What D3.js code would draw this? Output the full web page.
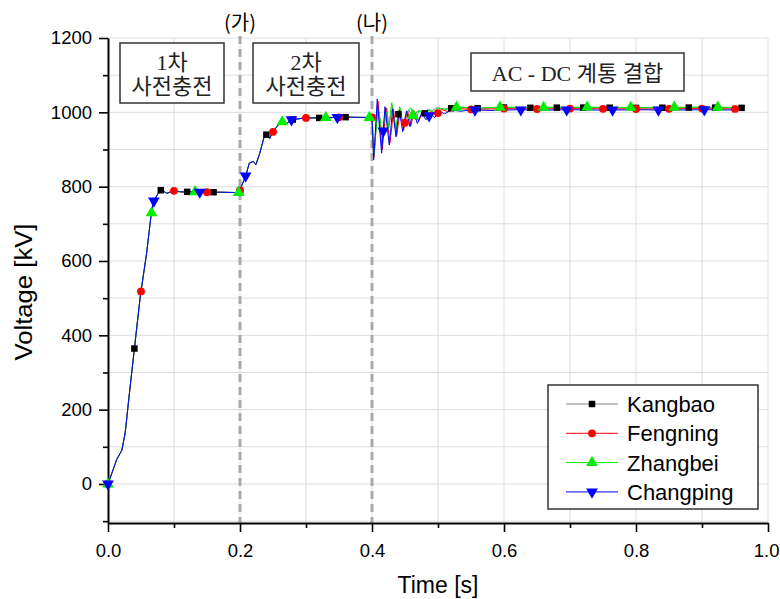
<!DOCTYPE html>
<html>
<head>
<meta charset="utf-8">
<script src="https://cdn.jsdelivr.net/npm/d3@7"></script>
<style>
  body { margin: 0; background: #fff; }
  text { font-family: "Liberation Sans", Arial, sans-serif; fill: #000; }
</style>
</head>
<body>
<div id="chart"></div>
<script>
// ---- data ----
var ticksX = [0, 0.2, 0.4, 0.6, 0.8, 1.0]
var ticksY = [0, 200, 400, 600, 800, 1000, 1200]
var seriesNames = ["Kangbao", "Fengning", "Zhangbei", "Changping"]
var seriesColors = ["#808080", "#ff0000", "#00ee00", "#0000ff"]
var markerColors = ["#000000", "#ff0000", "#00ee00", "#0000ff"]
var phaseTimes = [0.2, 0.4]
var phaseLabels = ["(가)", "(나)"]
var noteLines = [["1차", "사전충전"], ["2차", "사전충전"], ["AC - DC 계통 결합"]]

// all four stations overlap during the two pre-charging steps (t, kV)
var precharge = [[0,0],[0.013,65],[0.021,91],[0.026,137],[0.033,253],[0.0394,355],[0.049,506],
  [0.0585,621],[0.065,719],[0.069,760],[0.0788,791],[0.084,788],[0.089,782],[0.099,789],[0.11,786],
  [0.13,786],[0.15,785],[0.17,785],[0.199,784],[0.202,800],[0.209,831],[0.214,863],[0.220,868],
  [0.224,859],[0.230,890],[0.238,944],[0.245,930],[0.249,945],[0.2556,961],[0.263,975],[0.27,969],
  [0.278,980],[0.29,983],[0.298,985],[0.32,985],[0.36,987],[0.399,986]]

// after AC-DC connection (t, kV)
var kangbaoTail = [[0.400,986],[0.402,905],[0.4035,888],[0.4065,965],[0.4095,1020],[0.4125,970],
  [0.416,925],[0.4195,990],[0.4225,1012],[0.4255,960],[0.4285,990],[0.431,1018],[0.4335,978],
  [0.4365,955],[0.4395,992],[0.4425,1010],[0.4455,982],[0.4485,965],[0.4525,998],[0.456,1006],
  [0.46,990],[0.464,982],[0.468,1002],[0.473,1004],[0.478,992],[0.484,1008],[0.49,1002],
  [0.497,1012],[0.51,1009],[0.53,1013],[0.56,1011],[0.6,1013],[0.65,1012],[0.7,1013],[0.8,1012],
  [0.9,1013],[0.962,1012]]
var fengningTail = [[0.400,986],[0.402,900],[0.403,880],[0.406,960],[0.409,1030],[0.412,960],
  [0.4155,900],[0.4185,955],[0.421,1012],[0.424,965],[0.4272,918],[0.430,960],[0.4325,1008],
  [0.435,970],[0.4375,938],[0.4405,978],[0.443,1004],[0.4455,978],[0.448,952],[0.451,982],
  [0.454,1003],[0.4565,985],[0.459,965],[0.462,988],[0.4645,1003],[0.4705,975],[0.477,1002],
  [0.4835,985],[0.490,1003],[0.497,992],[0.505,1008],[0.515,1002],[0.53,1010],[0.55,1008],
  [0.6,1010],[0.65,1009],[0.7,1010],[0.8,1009],[0.9,1010],[0.962,1009]]
var zhangbeiTail = [[0.400,985],[0.4015,920],[0.403,885],[0.406,950],[0.409,1005],[0.412,985],
  [0.4155,940],[0.419,985],[0.422,1000],[0.425,955],[0.428,1000],[0.430,1026],[0.433,985],
  [0.436,950],[0.439,990],[0.442,1015],[0.445,980],[0.448,960],[0.452,995],[0.456,1008],
  [0.459,1012],[0.463,985],[0.467,980],[0.471,1005],[0.476,1000],[0.481,990],[0.487,1008],
  [0.493,1000],[0.50,1012],[0.51,1008],[0.53,1014],[0.56,1012],[0.6,1014],[0.65,1013],[0.7,1014],
  [0.8,1013],[0.9,1014],[0.962,1013]]
var changpingTail = [[0.400,985],[0.4015,925],[0.4025,872],[0.405,945],[0.408,1036],[0.4115,955],
  [0.4146,890],[0.417,950],[0.4197,1015],[0.423,962],[0.4262,912],[0.429,965],[0.4313,1010],
  [0.434,968],[0.4364,934],[0.439,975],[0.4414,1005],[0.444,976],[0.4465,948],[0.4495,980],
  [0.4525,1004],[0.455,982],[0.4576,961],[0.460,985],[0.4626,1002],[0.4687,970],[0.4753,999],
  [0.4818,980],[0.4889,997],[0.495,986],[0.502,1003],[0.51,996],[0.52,1006],[0.535,1003],
  [0.55,1007],[0.58,1005],[0.62,1007],[0.66,1006],[0.70,1007],[0.75,1006],[0.80,1007],[0.85,1006],
  [0.90,1007],[0.962,1006]]

// times where each series carries a marker
var kangbaoMarks = [0,0.04,0.08,0.12,0.16,0.2,0.24,0.28,0.32,0.36,0.4,0.44,0.48,0.52,0.56,0.6,
  0.64,0.68,0.72,0.76,0.8,0.84,0.88,0.92,0.96]
var fengningMarks = [0,0.05,0.1,0.15,0.2,0.25,0.3,0.35,0.4,0.45,0.5,0.55,0.6,0.65,0.7,0.75,0.8,
  0.85,0.9,0.95]
var zhangbeiMarks = [0,0.066,0.132,0.198,0.264,0.33,0.396,0.462,0.528,0.594,0.66,0.726,0.792,
  0.858,0.924]
var changpingMarks = [0,0.0695,0.139,0.2085,0.278,0.3475,0.417,0.4865,0.556,0.6255,0.695,0.7645,
  0.834,0.9035]

var seriesData = [precharge.concat(kangbaoTail), precharge.concat(fengningTail),
  precharge.concat(zhangbeiTail), precharge.concat(changpingTail)]
var seriesMarks = [kangbaoMarks, fengningMarks, zhangbeiMarks, changpingMarks]
var seriesSymbols = [d3.symbolSquare, d3.symbolCircle, d3.symbolTriangle, d3.symbolTriangle]

// ---- chart ----
var svg = d3.select("#chart").append("svg")
  .attr("width", 780)
  .attr("height", 599)

var x = d3.scaleLinear().domain([0, 1]).range([108, 768])
var y = d3.scaleLinear().domain([-105, 1200]).range([523, 38])

// light grid on every minor step
svg.append("g").selectAll("line")
  .data(x.ticks(10).slice(1))
  .join("line")
  .attr("x1", d => x(d)).attr("x2", d => x(d))
  .attr("y1", y(1200)).attr("y2", y(-105))
  .attr("stroke", "#dedede")
svg.append("g").selectAll("line")
  .data(d3.range(-100, 1201, 100))
  .join("line")
  .attr("x1", x(0)).attr("x2", x(1))
  .attr("y1", d => y(d)).attr("y2", d => y(d))
  .attr("stroke", "#dedede")

// phase markers (dashed)
svg.append("g").selectAll("line")
  .data(phaseTimes)
  .join("line")
  .attr("x1", d => x(d)).attr("x2", d => x(d))
  .attr("y1", 36).attr("y2", y(-105))
  .attr("stroke", "#aaaaaa")
  .attr("stroke-width", 3)
  .attr("stroke-dasharray", "8,5")
svg.append("g").selectAll("text")
  .data(phaseLabels)
  .join("text")
  .attr("x", (d, i) => x(phaseTimes[i]))
  .attr("y", 30)
  .attr("text-anchor", "middle")
  .style("font-family", "'Noto Sans CJK KR', sans-serif")
  .style("font-size", "20px")
  .text(d => d)

// axes
var xAxis = svg.append("g")
  .attr("transform", "translate(0," + y(-105) + ")")
  .call(d3.axisBottom(x).tickValues(ticksX).tickFormat(d3.format(".1f")).tickSize(9).tickSizeOuter(0).tickPadding(8))
svg.append("g")
  .attr("transform", "translate(0," + y(-105) + ")")
  .call(d3.axisBottom(x).tickValues(x.ticks(10).filter(d => ticksX.indexOf(+d.toFixed(1)) < 0)).tickSize(5).tickFormat(""))
  .call(g => g.select(".domain").remove())

var yAxis = svg.append("g")
  .attr("transform", "translate(" + x(0) + ",0)")
  .call(d3.axisLeft(y).tickValues(ticksY).tickFormat(d3.format("d")).tickSize(9).tickSizeOuter(0).tickPadding(7))
svg.append("g")
  .attr("transform", "translate(" + x(0) + ",0)")
  .call(d3.axisLeft(y).tickValues(d3.range(-100, 1200, 200)).tickSize(5).tickFormat(""))
  .call(g => g.select(".domain").remove())

svg.selectAll(".domain").attr("stroke-width", 2)
svg.selectAll(".tick line").attr("stroke-width", 1.6)
svg.selectAll(".tick text").style("font-size", "18.5px").style("font-family", "'Liberation Sans', Arial, sans-serif")
xAxis.selectAll(".tick text").attr("dy", "0.9em")
// last label sits on the page edge, as in the figure
xAxis.selectAll(".tick text").filter(d => d == 1).attr("dx", "-0.1em")

svg.append("text")
  .attr("x", 438).attr("y", 593)
  .attr("text-anchor", "middle")
  .style("font-size", "23px")
  .text("Time [s]")
svg.append("text")
  .attr("transform", "translate(32," + 292 + ") rotate(-90)")
  .attr("text-anchor", "middle")
  .style("font-size", "23px")
  .attr("textLength", 137)
  .attr("lengthAdjust", "spacingAndGlyphs")
  .text("Voltage [kV]")

// annotation boxes
var boxes = [[120, 43, 104, 60], [253, 43, 106, 60], [471, 53, 213, 38]]
boxes.forEach(function(b, i) {
  svg.append("rect")
    .attr("x", b[0]).attr("y", b[1]).attr("width", b[2]).attr("height", b[3])
    .attr("fill", "#fff").attr("stroke", "#333").attr("stroke-width", 1.5)
  var lines = noteLines[i]
  svg.append("g").selectAll("text")
    .data(lines)
    .join("text")
    .attr("x", b[0] + b[2] / 2)
    .attr("y", (d, j) => lines.length == 1 ? b[1] + 28 : b[1] + 27 + j * 24)
    .attr("text-anchor", "middle")
    .style("font-family", "'Liberation Serif', 'Noto Sans CJK KR', serif")
    .style("font-size", "22px")
    .style("fill", "#222")
    .text(d => d)
})

// lines
var drawLine = d3.line()
  .x(d => x(d[0]))
  .y(d => y(d[1]))

svg.append("g").selectAll("path")
  .data(seriesData)
  .join("path")
  .attr("fill", "none")
  .attr("stroke", (d, i) => seriesColors[i])
  .attr("stroke-width", 1)
  .attr("d", d => drawLine(d))

// value of a series at time t, to sit the markers on the curve
var bis = d3.bisector(d => d[0]).left
function valueAt(data, t) {
  var i = bis(data, t)
  if (i <= 0) return data[0][1]
  if (i >= data.length) return data[data.length - 1][1]
  var a = data[i - 1], b = data[i]
  return a[1] + (b[1] - a[1]) * (t - a[0]) / (b[0] - a[0])
}

function symbolPath(i) {
  var sizes = [42, 48, 60, 60]
  return d3.symbol().type(seriesSymbols[i]).size(sizes[i])()
}
function symbolRotate(i) {
  return i == 3 ? " rotate(180)" : ""
}

seriesMarks.forEach(function(marks, i) {
  svg.append("g").selectAll("path")
    .data(marks)
    .join("path")
    .attr("d", symbolPath(i))
    .attr("transform", t => "translate(" + x(t) + "," + y(valueAt(seriesData[i], t)) + ")" + symbolRotate(i))
    .attr("fill", markerColors[i])
})

// legend
var legend = svg.append("g")
legend.append("rect")
  .attr("x", 548).attr("y", 385).attr("width", 210).attr("height", 124)
  .attr("fill", "#fff").attr("stroke", "#333").attr("stroke-width", 1.5)
var rows = legend.selectAll("g.row")
  .data(seriesNames)
  .join("g")
  .attr("class", "row")
  .attr("transform", (d, i) => "translate(0," + (404 + i * 29.3) + ")")
rows.append("line")
  .attr("x1", 566).attr("x2", 618)
  .attr("stroke", (d, i) => seriesColors[i])
  .attr("stroke-width", 1)
rows.append("path")
  .attr("d", (d, i) => symbolPath(i))
  .attr("transform", (d, i) => "translate(592,0)" + symbolRotate(i))
  .attr("fill", (d, i) => markerColors[i])
rows.append("text")
  .attr("x", 627)
  .attr("dy", "0.36em")
  .style("font-size", "22px")
  .text(d => d)
</script>
</body>
</html>
